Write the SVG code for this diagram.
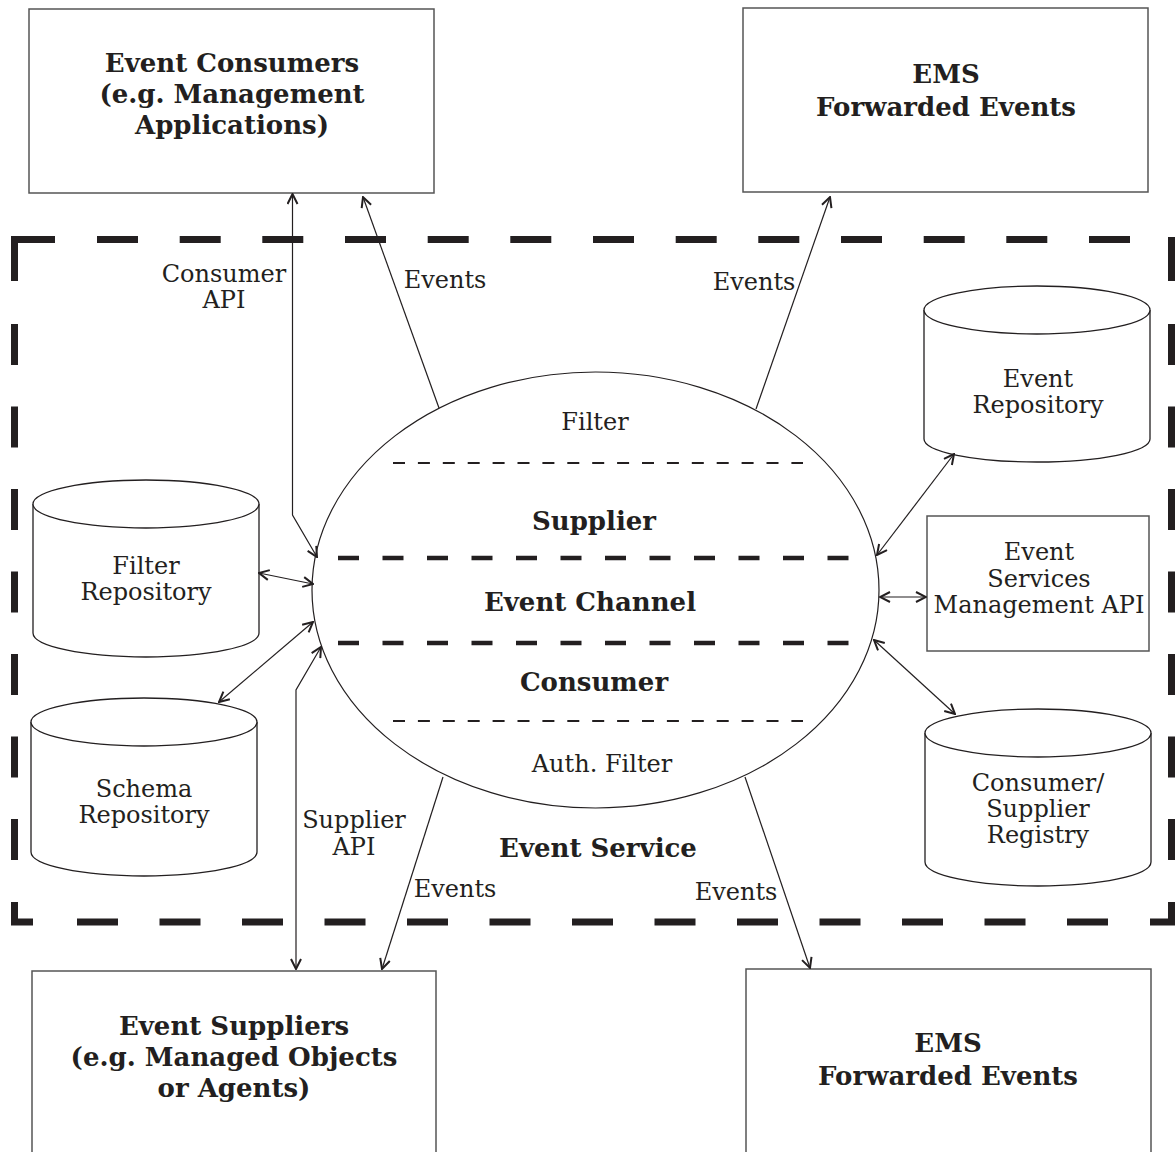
<svg xmlns="http://www.w3.org/2000/svg" width="1176" height="1152" viewBox="0 0 1176 1152">
<style>
.bg{fill:#ffffff}
.box{fill:#ffffff;stroke:#555555;stroke-width:1.5}
.cyl{fill:#ffffff;stroke:#231f20;stroke-width:1.3}
.frame{fill:none;stroke:#231f20;stroke-width:7;stroke-linecap:butt;stroke-linejoin:miter}
.conn{fill:none;stroke:#231f20;stroke-width:1.2}
.thick{fill:none;stroke:#231f20;stroke-width:4.5;stroke-dasharray:21 23.5}
.thin{fill:none;stroke:#231f20;stroke-width:2;stroke-dasharray:12 12.9}
.t{font-family:"DejaVu Serif","Liberation Serif",serif;font-size:24px;fill:#231f20;text-anchor:middle}
.b{font-family:"DejaVu Serif","Liberation Serif",serif;font-size:26px;font-weight:bold;fill:#231f20;text-anchor:middle}
</style>
<defs>
<marker id="arr" viewBox="0 0 12 12" refX="11" refY="6" markerWidth="12" markerHeight="12" markerUnits="userSpaceOnUse" orient="auto-start-reverse">
<path d="M1,1 L11,6 L1,11" fill="none" stroke="#231f20" stroke-width="2"/>
</marker>
</defs>
<rect class="bg" x="0" y="0" width="1176" height="1152"/>

<g id="event-service-boundary">
<path class="frame" d="M14.5 281V239.5H55 M97 239.5h41 M179.7 239.5h41 M262.3 239.5h41 M345 239.5h41 M427.7 239.5h41 M510.3 239.5h41 M593 239.5h41 M675.7 239.5h41 M758.3 239.5h41 M841 239.5h41 M923.7 239.5h41 M1006.3 239.5h41 M1089 239.5h41"/>
<path class="frame" d="M14.5 324v41 M14.5 406.5v41 M14.5 489v41 M14.5 571.5v41 M14.5 654v41 M14.5 736.5v41 M14.5 819v41 M14.5 902V922H33"/>
<path class="frame" d="M1171.5 237V281 M1171.5 324v41 M1171.5 406.5v41 M1171.5 489v41 M1171.5 571.5v41 M1171.5 654v41 M1171.5 736.5v41 M1171.5 819v41 M1150 922H1171.5V902"/>
<path class="frame" d="M77 922h41 M159.5 922h41 M242 922h41 M324.5 922h41 M407 922h41 M489.5 922h41 M572 922h41 M654.5 922h41 M737 922h41 M819.5 922h41 M902 922h41 M984.5 922h41 M1067 922h41"/>
<text class="b" x="598" y="857">Event Service</text>
</g>

<g id="event-consumers">
<rect class="box" x="29" y="9" width="405" height="184"/>
<text class="b" x="232" y="72">Event Consumers</text>
<text class="b" x="232" y="103">(e.g. Management</text>
<text class="b" x="232" y="134">Applications)</text>
</g>

<g id="ems-forwarded-top">
<rect class="box" x="743" y="8" width="405" height="184"/>
<text class="b" x="946" y="83">EMS</text>
<text class="b" x="946" y="116">Forwarded Events</text>
</g>

<g id="event-suppliers">
<rect class="box" x="32" y="971" width="404" height="200"/>
<text class="b" x="234" y="1035">Event Suppliers</text>
<text class="b" x="234" y="1066">(e.g. Managed Objects</text>
<text class="b" x="234" y="1097">or Agents)</text>
</g>

<g id="ems-forwarded-bottom">
<rect class="box" x="746" y="969" width="405" height="200"/>
<text class="b" x="948" y="1052">EMS</text>
<text class="b" x="948" y="1085">Forwarded Events</text>
</g>

<g id="event-channel">
<ellipse cx="595.5" cy="590" rx="283.5" ry="218" fill="#ffffff" stroke="#231f20" stroke-width="1.2"/>
<line class="thin" x1="393" y1="463" x2="803" y2="463"/>
<line class="thick" x1="338" y1="558" x2="849" y2="558"/>
<line class="thick" x1="338" y1="643" x2="849" y2="643"/>
<line class="thin" x1="393" y1="721" x2="803" y2="721"/>
<text class="t" x="595" y="430">Filter</text>
<text class="b" x="594" y="530">Supplier</text>
<text class="b" x="590" y="611">Event Channel</text>
<text class="b" x="594" y="691">Consumer</text>
<text class="t" x="602" y="772">Auth. Filter</text>
</g>

<g id="filter-repository">
<path class="cyl" d="M33 504V633A113 24 0 0 0 259 633V504"/>
<ellipse class="cyl" cx="146" cy="504" rx="113" ry="24"/>
<text class="t" x="146" y="574">Filter</text>
<text class="t" x="146" y="600">Repository</text>
</g>

<g id="schema-repository">
<path class="cyl" d="M31 722V852A113 24 0 0 0 257 852V722"/>
<ellipse class="cyl" cx="144" cy="722" rx="113" ry="24"/>
<text class="t" x="144" y="797">Schema</text>
<text class="t" x="144" y="823">Repository</text>
</g>

<g id="event-repository">
<path class="cyl" d="M924 310V439A113 23 0 0 0 1150 439V310"/>
<ellipse class="cyl" cx="1037" cy="310" rx="113" ry="24"/>
<text class="t" x="1038" y="387">Event</text>
<text class="t" x="1038" y="413">Repository</text>
</g>

<g id="event-services-management-api">
<rect class="box" x="927" y="516" width="222" height="135"/>
<text class="t" x="1039" y="560">Event</text>
<text class="t" x="1039" y="587">Services</text>
<text class="t" x="1039" y="613">Management API</text>
</g>

<g id="consumer-supplier-registry">
<path class="cyl" d="M925 733V862A113 24 0 0 0 1151 862V733"/>
<ellipse class="cyl" cx="1038" cy="733" rx="113" ry="24"/>
<text class="t" x="1038" y="791">Consumer/</text>
<text class="t" x="1038" y="817">Supplier</text>
<text class="t" x="1038" y="843">Registry</text>
</g>

<g id="connectors">
<path class="conn" d="M292.5 194V515L317 557" marker-start="url(#arr)" marker-end="url(#arr)"/>
<path class="conn" d="M439 408L363 197" marker-end="url(#arr)"/>
<path class="conn" d="M756 409L830 197" marker-end="url(#arr)"/>
<path class="conn" d="M259 573L313 584" marker-start="url(#arr)" marker-end="url(#arr)"/>
<path class="conn" d="M219 702L313 622" marker-start="url(#arr)" marker-end="url(#arr)"/>
<path class="conn" d="M321 647L296 690V969" marker-start="url(#arr)" marker-end="url(#arr)"/>
<path class="conn" d="M443 777L382 969" marker-end="url(#arr)"/>
<path class="conn" d="M745 777L810 968" marker-end="url(#arr)"/>
<path class="conn" d="M954 454L877 555" marker-start="url(#arr)" marker-end="url(#arr)"/>
<path class="conn" d="M880 597H926" marker-start="url(#arr)" marker-end="url(#arr)"/>
<path class="conn" d="M874 640L955 714" marker-start="url(#arr)" marker-end="url(#arr)"/>
<text class="t" x="224" y="282">Consumer</text>
<text class="t" x="224" y="308">API</text>
<text class="t" x="445" y="288">Events</text>
<text class="t" x="754" y="290">Events</text>
<text class="t" x="354" y="828">Supplier</text>
<text class="t" x="354" y="855">API</text>
<text class="t" x="455" y="897">Events</text>
<text class="t" x="736" y="900">Events</text>
</g>
</svg>
